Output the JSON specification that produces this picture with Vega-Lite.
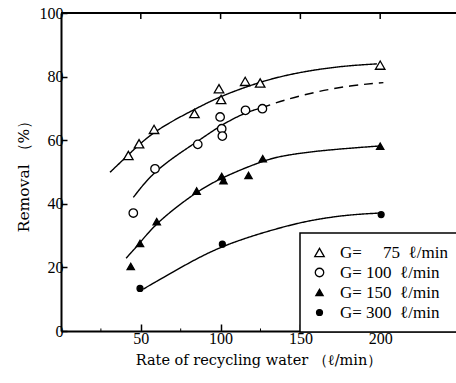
{
  "$schema": "https://vega.github.io/schema/vega-lite/v6.json",
  "width": 395,
  "height": 318,
  "autosize": {"type": "none"},
  "padding": {"left": 61, "top": 13, "right": 0, "bottom": 52},
  "background": "white",
  "config": {
    "view": {"stroke": null},
    "font": "Liberation Serif",
    "axis": {
      "domainColor": "black",
      "domainWidth": 2,
      "tickColor": "black",
      "tickWidth": 1.5,
      "labelColor": "black",
      "labelFont": "Liberation Serif",
      "labelFontSize": 16,
      "titleFont": "DejaVu Serif",
      "titleFontWeight": "normal",
      "titleColor": "black",
      "grid": false
    },
    "legend": {
      "labelFont": "Liberation Serif",
      "labelFontSize": 17,
      "labelColor": "black",
      "strokeWidth": 1.5
    }
  },
  "datasets": {
    "points": [
      {"G": "G=\u00a0\u2007\u200775\u00a0\u00a0ℓ/min", "x": 42.2, "y": 55.2},
      {"G": "G=\u00a0\u2007\u200775\u00a0\u00a0ℓ/min", "x": 48.9, "y": 58.9},
      {"G": "G=\u00a0\u2007\u200775\u00a0\u00a0ℓ/min", "x": 58.3, "y": 63.4},
      {"G": "G=\u00a0\u2007\u200775\u00a0\u00a0ℓ/min", "x": 83.6, "y": 68.4},
      {"G": "G=\u00a0\u2007\u200775\u00a0\u00a0ℓ/min", "x": 99.0, "y": 76.2},
      {"G": "G=\u00a0\u2007\u200775\u00a0\u00a0ℓ/min", "x": 100.3, "y": 72.8},
      {"G": "G=\u00a0\u2007\u200775\u00a0\u00a0ℓ/min", "x": 115.4, "y": 78.5},
      {"G": "G=\u00a0\u2007\u200775\u00a0\u00a0ℓ/min", "x": 124.8, "y": 78.0},
      {"G": "G=\u00a0\u2007\u200775\u00a0\u00a0ℓ/min", "x": 200.0, "y": 83.6},
      {"G": "G=\u00a0100\u00a0\u00a0ℓ/min", "x": 45.3, "y": 37.1},
      {"G": "G=\u00a0100\u00a0\u00a0ℓ/min", "x": 58.9, "y": 51.0},
      {"G": "G=\u00a0100\u00a0\u00a0ℓ/min", "x": 85.7, "y": 58.7},
      {"G": "G=\u00a0100\u00a0\u00a0ℓ/min", "x": 99.7, "y": 67.3},
      {"G": "G=\u00a0100\u00a0\u00a0ℓ/min", "x": 100.7, "y": 63.6},
      {"G": "G=\u00a0100\u00a0\u00a0ℓ/min", "x": 101.1, "y": 61.3},
      {"G": "G=\u00a0100\u00a0\u00a0ℓ/min", "x": 115.6, "y": 69.4},
      {"G": "G=\u00a0100\u00a0\u00a0ℓ/min", "x": 126.2, "y": 69.9},
      {"G": "G=\u00a0150\u00a0\u00a0ℓ/min", "x": 43.7, "y": 20.3},
      {"G": "G=\u00a0150\u00a0\u00a0ℓ/min", "x": 49.5, "y": 27.5},
      {"G": "G=\u00a0150\u00a0\u00a0ℓ/min", "x": 60.0, "y": 34.4},
      {"G": "G=\u00a0150\u00a0\u00a0ℓ/min", "x": 85.0, "y": 44.0},
      {"G": "G=\u00a0150\u00a0\u00a0ℓ/min", "x": 100.7, "y": 48.6},
      {"G": "G=\u00a0150\u00a0\u00a0ℓ/min", "x": 101.8, "y": 47.3},
      {"G": "G=\u00a0150\u00a0\u00a0ℓ/min", "x": 117.5, "y": 48.9},
      {"G": "G=\u00a0150\u00a0\u00a0ℓ/min", "x": 126.4, "y": 54.2},
      {"G": "G=\u00a0150\u00a0\u00a0ℓ/min", "x": 200.0, "y": 58.1},
      {"G": "G=\u00a0300\u00a0\u00a0ℓ/min", "x": 49.5, "y": 13.4},
      {"G": "G=\u00a0300\u00a0\u00a0ℓ/min", "x": 101.1, "y": 27.3},
      {"G": "G=\u00a0300\u00a0\u00a0ℓ/min", "x": 200.6, "y": 36.6}
    ],
    "curves": [
      {"seg": "75", "style": "solid", "x": 30.7, "y": 49.9},
      {"seg": "75", "style": "solid", "x": 42.2, "y": 55.4},
      {"seg": "75", "style": "solid", "x": 57.9, "y": 62.9},
      {"seg": "75", "style": "solid", "x": 84.0, "y": 69.8},
      {"seg": "75", "style": "solid", "x": 99.7, "y": 73.8},
      {"seg": "75", "style": "solid", "x": 122.7, "y": 78.0},
      {"seg": "75", "style": "solid", "x": 139.4, "y": 80.3},
      {"seg": "75", "style": "solid", "x": 160.3, "y": 82.3},
      {"seg": "75", "style": "solid", "x": 181.2, "y": 83.5},
      {"seg": "75", "style": "solid", "x": 198.0, "y": 84.0},
      {"seg": "100a", "style": "solid", "x": 45.3, "y": 42.0},
      {"seg": "100a", "style": "solid", "x": 58.9, "y": 50.8},
      {"seg": "100a", "style": "solid", "x": 85.0, "y": 59.4},
      {"seg": "100a", "style": "solid", "x": 99.7, "y": 64.6},
      {"seg": "100a", "style": "solid", "x": 115.4, "y": 68.7},
      {"seg": "100a", "style": "solid", "x": 125.8, "y": 70.2},
      {"seg": "100b", "style": "dashed", "x": 125.8, "y": 70.2},
      {"seg": "100b", "style": "dashed", "x": 139.4, "y": 72.6},
      {"seg": "100b", "style": "dashed", "x": 160.3, "y": 75.3},
      {"seg": "100b", "style": "dashed", "x": 181.2, "y": 77.2},
      {"seg": "100b", "style": "dashed", "x": 202.0, "y": 78.1},
      {"seg": "150", "style": "solid", "x": 40.8, "y": 22.9},
      {"seg": "150", "style": "solid", "x": 49.5, "y": 27.7},
      {"seg": "150", "style": "solid", "x": 60.0, "y": 34.2},
      {"seg": "150", "style": "solid", "x": 85.0, "y": 43.9},
      {"seg": "150", "style": "solid", "x": 101.8, "y": 48.5},
      {"seg": "150", "style": "solid", "x": 126.8, "y": 53.6},
      {"seg": "150", "style": "solid", "x": 139.4, "y": 55.2},
      {"seg": "150", "style": "solid", "x": 160.3, "y": 56.6},
      {"seg": "150", "style": "solid", "x": 181.2, "y": 57.5},
      {"seg": "150", "style": "solid", "x": 200.0, "y": 58.2},
      {"seg": "300", "style": "solid", "x": 51.6, "y": 13.2},
      {"seg": "300", "style": "solid", "x": 76.7, "y": 20.5},
      {"seg": "300", "style": "solid", "x": 101.4, "y": 27.1},
      {"seg": "300", "style": "solid", "x": 139.4, "y": 32.9},
      {"seg": "300", "style": "solid", "x": 160.3, "y": 35.2},
      {"seg": "300", "style": "solid", "x": 181.2, "y": 36.6},
      {"seg": "300", "style": "solid", "x": 200.0, "y": 37.1}
    ]
  },
  "layer": [
    {
      "data": {"name": "curves"},
      "mark": {"type": "line", "color": "black", "strokeWidth": 1.4, "interpolate": "basis"},
      "encoding": {
        "x": {
          "field": "x", "type": "quantitative",
          "scale": {"domain": [0, 247.5], "nice": false, "zero": false},
          "axis": {
            "orient": "bottom", "values": [50, 100, 150, 200],
            "tickSize": -7, "labelPadding": 6,
            "title": "Rate of recycling water （ℓ/min）", "titlePadding": 7,
            "titleFontSize": 14.5
          }
        },
        "y": {
          "field": "y", "type": "quantitative",
          "scale": {"domain": [0, 100], "nice": false},
          "axis": {
            "values": [0, 20, 40, 60, 80, 100],
            "tickSize": -6, "labelPadding": 4,
            "title": "Removal （%）", "titlePadding": 8,
            "titleFontSize": 15.5
          }
        },
        "detail": {"field": "seg", "type": "nominal"},
        "strokeDash": {
          "field": "style", "type": "nominal",
          "scale": {"domain": ["solid", "dashed"], "range": [[1, 0], [9, 6]]},
          "legend": null
        },
        "order": {"field": "x", "type": "quantitative"}
      }
    },
    {
      "data": {"name": "points"},
      "mark": {"type": "point", "stroke": "black", "strokeWidth": 1.3, "opacity": 1},
      "encoding": {
        "x": {"field": "x", "type": "quantitative"},
        "y": {"field": "y", "type": "quantitative"},
        "shape": {
          "field": "G", "type": "nominal",
          "scale": {
            "domain": ["G=\u00a0\u2007\u200775\u00a0\u00a0ℓ/min", "G=\u00a0100\u00a0\u00a0ℓ/min", "G=\u00a0150\u00a0\u00a0ℓ/min", "G=\u00a0300\u00a0\u00a0ℓ/min"],
            "range": ["triangle-up", "circle", "triangle-up", "circle"]
          },
          "legend": {
            "title": null, "orient": "none", "legendX": 239, "legendY": 220,
            "strokeColor": "black", "fillColor": "white",
            "padding": 11, "rowPadding": 2, "labelOffset": 12,
            "symbolStrokeColor": "black", "symbolStrokeWidth": 1.3
          }
        },
        "fill": {
          "field": "G", "type": "nominal",
          "scale": {
            "domain": ["G=\u00a0\u2007\u200775\u00a0\u00a0ℓ/min", "G=\u00a0100\u00a0\u00a0ℓ/min", "G=\u00a0150\u00a0\u00a0ℓ/min", "G=\u00a0300\u00a0\u00a0ℓ/min"],
            "range": ["white", "white", "black", "black"]
          }
        },
        "size": {
          "field": "G", "type": "nominal",
          "scale": {
            "domain": ["G=\u00a0\u2007\u200775\u00a0\u00a0ℓ/min", "G=\u00a0100\u00a0\u00a0ℓ/min", "G=\u00a0150\u00a0\u00a0ℓ/min", "G=\u00a0300\u00a0\u00a0ℓ/min"],
            "range": [90, 35, 90, 35]
          }
        }
      }
    },
    {
      "data": {"values": [{"top": 100}]},
      "mark": {"type": "rule", "color": "black", "strokeWidth": 2},
      "encoding": {"y": {"field": "top", "type": "quantitative"}}
    },
    {
      "data": {"values": [{"tick": 50}, {"tick": 100}, {"tick": 150}, {"tick": 200}]},
      "mark": {"type": "rule", "color": "black", "strokeWidth": 1.5},
      "encoding": {
        "x": {"field": "tick", "type": "quantitative"},
        "y": {"datum": 100},
        "y2": {"datum": 98.1}
      }
    },
    {
      "data": {"values": [{"tick": 25}, {"tick": 75}, {"tick": 125}, {"tick": 175}, {"tick": 225}]},
      "mark": {"type": "rule", "color": "black", "strokeWidth": 1},
      "encoding": {
        "x": {"field": "tick", "type": "quantitative"},
        "y": {"datum": 0},
        "y2": {"datum": 0.8}
      }
    }
  ]
}
